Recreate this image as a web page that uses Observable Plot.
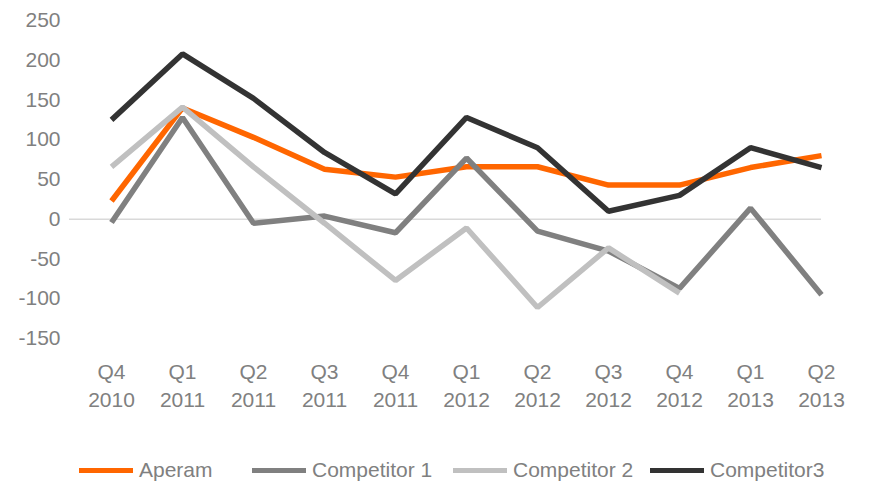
<!DOCTYPE html>
<html>
<head>
<meta charset="utf-8">
<script src="https://cdn.jsdelivr.net/npm/d3@7"></script>
<script src="https://cdn.jsdelivr.net/npm/@observablehq/plot@0.6"></script>
<style>
  html, body { margin: 0; padding: 0; background: #ffffff; }
  #wrap { position: relative; width: 871px; height: 486px; font-family: "Liberation Sans", Arial, sans-serif; }
  #legend { position: absolute; left: 79px; top: 457px; height: 26px; display: flex; align-items: center; color: #808080; font-size: 21px; }
  .item { display: flex; align-items: center; }
  .sw { width: 54px; height: 5px; margin-right: 6px; }
</style>
</head>
<body>
<div id="wrap"><div id="chart"></div><div id="legend"></div></div>
<script>
const quarters = ["Q4\n2010", "Q1\n2011", "Q2\n2011", "Q3\n2011", "Q4\n2011", "Q1\n2012", "Q2\n2012", "Q3\n2012", "Q4\n2012", "Q1\n2013", "Q2\n2013"];
const aperam      = [23, 140, 103, 63, 53, 66, 66, 43, 43, 65, 80];
const competitor1 = [-4, 128, -5, 4, -17, 77, -15, -40, -87, 14, -95];
const competitor2 = [66, 141, 66, -5, -77, -11, -111, -36, -93, null, null];
const competitor3 = [125, 208, 152, 84, 32, 128, 90, 10, 30, 90, 65];
const seriesNames = ["Aperam", "Competitor 1", "Competitor 2", "Competitor3"];
const seriesColors = ["#ff6600", "#808080", "#c0c0c0", "#333333"];
const yTicks = [-150, -100, -50, 0, 50, 100, 150, 200, 250];

const seriesValues = [aperam, competitor1, competitor2, competitor3];
const rows = [];
seriesNames.forEach((name, i) => {
  quarters.forEach((q, j) => rows.push({ series: name, quarter: q, value: seriesValues[i][j] }));
});

const chart = Plot.plot({
  width: 871,
  height: 440,
  marginLeft: 69,
  marginRight: 50,
  marginTop: 20,
  marginBottom: 102,
  style: { fontFamily: "Liberation Sans, Arial, sans-serif", fontSize: "21px", color: "#808080", background: "#ffffff" },
  x: { type: "point", domain: quarters, padding: 0.26, align: 1, label: null },
  y: { domain: [-150, 250], label: null },
  color: { domain: seriesNames, range: seriesColors },
  marks: [
    Plot.ruleY([0], { stroke: "#d9d9d9", strokeWidth: 1.5 }),
    Plot.axisY({ ticks: yTicks, tickSize: 0, tickPadding: 9, label: null, tickFormat: d => String(d) }),
    Plot.axisX({ tickSize: 0, tickPadding: 21, lineHeight: 1.33, label: null }),
    Plot.line(rows, { x: "quarter", y: "value", z: "series", stroke: "series", strokeWidth: 5.5, strokeLinecap: "butt", strokeLinejoin: "miter" })
  ]
});
document.getElementById("chart").appendChild(chart);

const itemWidths = [173, 201, 197, null];
const legend = document.getElementById("legend");
seriesNames.forEach((name, i) => {
  const item = document.createElement("div");
  item.className = "item";
  if (itemWidths[i]) item.style.width = itemWidths[i] + "px";
  const sw = document.createElement("div");
  sw.className = "sw";
  sw.style.background = seriesColors[i];
  const label = document.createElement("span");
  label.textContent = name;
  item.appendChild(sw);
  item.appendChild(label);
  legend.appendChild(item);
});
</script>
</body>
</html>
